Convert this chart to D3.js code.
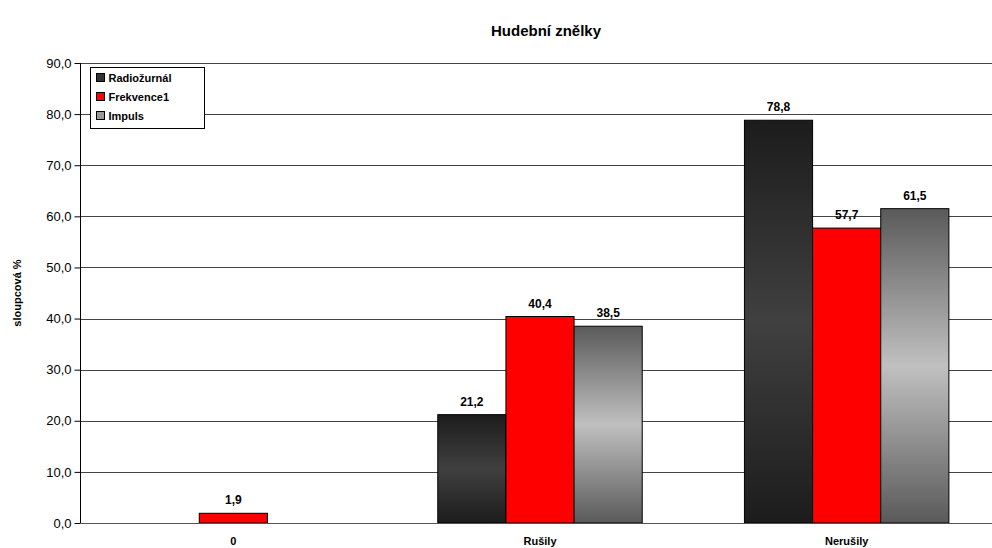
<!DOCTYPE html>
<html>
<head>
<meta charset="utf-8">
<script src="https://cdn.jsdelivr.net/npm/d3@7"></script>
<style>
  html, body { margin: 0; padding: 0; background: #fff; }
  svg { display: block; font-family: Arial, "Liberation Sans", sans-serif; }
</style>
</head>
<body>
<svg id="chart" width="992" height="548"></svg>
<script>
// Categories and series
const categories = ["0", "Rušily", "Nerušily"];
const seriesNames = ["Radiožurnál", "Frekvence1", "Impuls"];
const radiozurnal = [null, 21.2, 78.8];
const frekvence1 = [1.9, 40.4, 57.7];
const impuls = [null, 38.5, 61.5];
const yTicks = [0, 10, 20, 30, 40, 50, 60, 70, 80, 90];

const seriesValues = [radiozurnal, frekvence1, impuls];

const svg = d3.select("#chart");
const margin = { left: 80, top: 63, bottom: 25 };
const plotRight = 1000;
const plotBottom = 548 - margin.bottom;

// Gradients for the dark and grey series
const defs = svg.append("defs");
function addGradient(id, edge, mid) {
  const g = defs.append("linearGradient").attr("id", id)
    .attr("x1", 0).attr("y1", 0).attr("x2", 0).attr("y2", 1);
  g.append("stop").attr("offset", "0%").attr("stop-color", edge);
  g.append("stop").attr("offset", "50%").attr("stop-color", mid);
  g.append("stop").attr("offset", "100%").attr("stop-color", edge);
}
addGradient("gradDark", "#1c1c1c", "#404040");
addGradient("gradGrey", "#5a5a5a", "#c0c0c0");
const fills = ["url(#gradDark)", "#ff0000", "url(#gradGrey)"];
const swatchFills = ["#333333", "#ff0000", "#999999"];

const x = d3.scaleBand().domain(categories).range([margin.left, plotRight]).paddingInner(0).paddingOuter(0);
const y = d3.scaleLinear().domain([0, 90]).range([plotBottom, margin.top]);

// Horizontal gridlines
svg.append("g").selectAll("line").data(yTicks.filter(d => d > 0)).join("line")
  .attr("x1", margin.left).attr("x2", plotRight)
  .attr("y1", d => Math.round(y(d)) + 0.5).attr("y2", d => Math.round(y(d)) + 0.5)
  .attr("stroke", "#444").attr("stroke-width", 1);

// Y axis
const yAxis = d3.axisLeft(y).tickValues(yTicks).tickSize(5).tickPadding(4)
  .tickFormat(d => d3.format(".1f")(d).replace(".", ","));
const yg = svg.append("g").attr("transform", `translate(${margin.left + 0.5},0)`).call(yAxis);
yg.select(".domain").attr("stroke", "#000").attr("d", `M0,${y(0)}V${y(90)}`);
yg.selectAll(".tick line").attr("stroke", "#000").attr("x2", -6);
yg.selectAll(".tick text").attr("font-size", 13).attr("fill", "#000")
  .attr("font-family", "Arial, 'Liberation Sans', sans-serif");

// Bars
const barW = x.bandwidth() / (3 + 1.5);
const inner = d3.scaleBand().domain(seriesNames).range([0, barW * 3]);
const groups = svg.append("g").selectAll("g").data(categories).join("g")
  .attr("transform", d => `translate(${x(d) + x.bandwidth() / 2 - barW * 1.5},0)`);

groups.each(function(cat, ci) {
  const g = d3.select(this);
  seriesNames.forEach((s, si) => {
    const v = seriesValues[si][ci];
    if (v == null) return;
    g.append("rect")
      .attr("x", inner(s)).attr("width", inner.bandwidth())
      .attr("y", y(v)).attr("height", y(0) - y(v))
      .attr("fill", fills[si]).attr("stroke", "#000").attr("stroke-width", 1);
    g.append("text")
      .attr("x", inner(s) + inner.bandwidth() / 2).attr("y", y(v) - 9)
      .attr("text-anchor", "middle").attr("font-size", 12).attr("font-weight", "bold")
      .text(d3.format(".1f")(v).replace(".", ","));
  });
});

// X axis baseline
svg.append("line").attr("x1", margin.left).attr("x2", plotRight)
  .attr("y1", Math.round(y(0)) + 0.5).attr("y2", Math.round(y(0)) + 0.5)
  .attr("stroke", "#555");

// Category labels
svg.append("g").selectAll("text").data(categories).join("text")
  .attr("x", d => x(d) + x.bandwidth() / 2).attr("y", 545)
  .attr("text-anchor", "middle").attr("font-size", 11).attr("font-weight", "bold")
  .text(d => d);

// Title
svg.append("text").attr("x", 546).attr("y", 36).attr("text-anchor", "middle")
  .attr("font-size", 15).attr("font-weight", "bold").text("Hudební znělky");

// Y axis title
svg.append("text").attr("transform", "translate(21,293) rotate(-90)")
  .attr("text-anchor", "middle").attr("font-size", 11).attr("font-weight", "bold")
  .text("sloupcová %");

// Legend
const lg = svg.append("g").attr("transform", "translate(90.5,67.5)");
lg.append("rect").attr("width", 114).attr("height", 61).attr("fill", "#fff").attr("stroke", "#000");
seriesNames.forEach((s, i) => {
  const yy = 10 + i * 19;
  lg.append("rect").attr("x", 6).attr("y", yy - 4).attr("width", 8).attr("height", 8)
    .attr("fill", swatchFills[i]).attr("stroke", "#000");
  lg.append("text").attr("x", 18).attr("y", yy + 4).attr("font-size", 11).attr("font-weight", "bold").text(s);
});
</script>
</body>
</html>
